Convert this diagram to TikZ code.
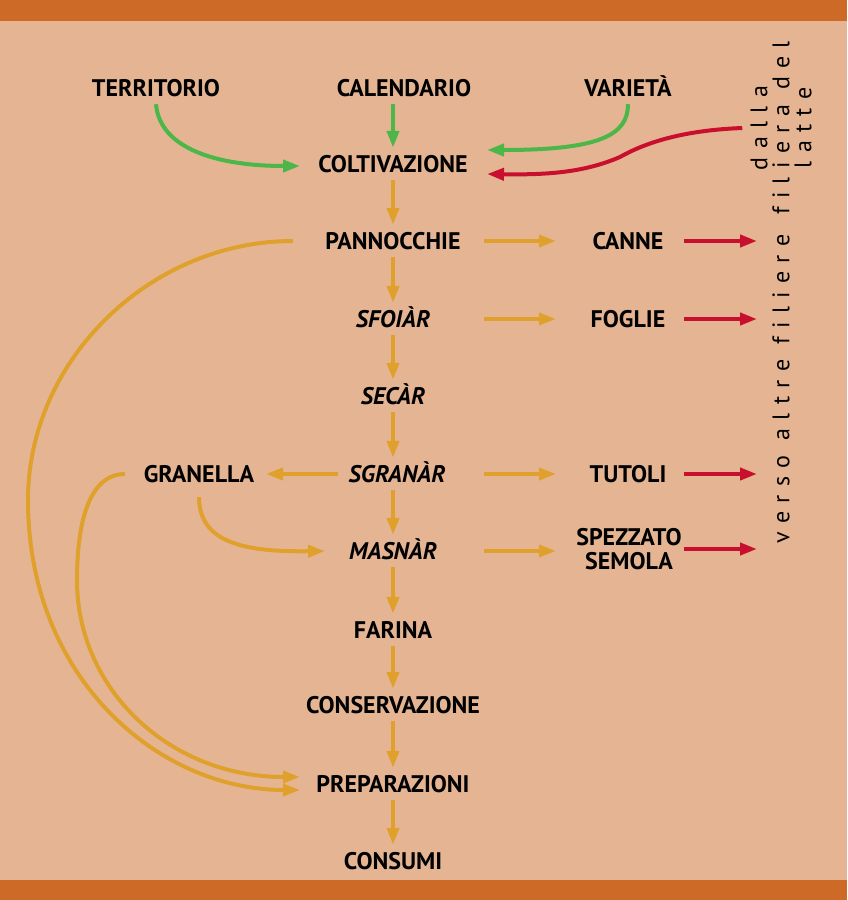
\documentclass[tikz,border=0pt]{standalone}
\usepackage{fontspec}
\setmainfont{PT Sans}
\newfontfamily\spaziato{PT Sans}[LetterSpace=35,Ligatures=NoCommon]
\usetikzlibrary{arrows.meta,calc}
\definecolor{fondo}{RGB}{229,181,147}
\definecolor{banda}{RGB}{205,106,40}
\definecolor{ocra}{RGB}{223,161,43}
\definecolor{verde}{RGB}{77,182,72}
\definecolor{rosso}{RGB}{200,16,46}

\begin{document}
\begin{tikzpicture}[
    x=1pt,y=-1pt,
    lab/.style={inner xsep=2pt,inner ysep=8pt,text height=16pt,text depth=0pt,font=\fontsize{24}{26}\selectfont\bfseries},
    fase/.style={lab,font=\fontsize{24}{26}\selectfont\bfseries\itshape},
    doppia/.style={align=center,inner sep=2pt,font=\fontsize{24}{24}\selectfont\bfseries},
    vtesto/.style={rotate=90,align=center,inner sep=3pt,font=\fontsize{24}{22}\selectfont\spaziato},
    ocr/.style={->,draw=ocra,line width=4pt},
    grn/.style={->,draw=verde,line width=4pt},
    ros/.style={->,draw=rosso,line width=4pt},
    >={Triangle[length=17pt,width=12pt]}]
    \fill[fondo] (0,0) rectangle (847,900);
    \fill[banda] (0,0) rectangle (847,21);
    \fill[banda] (0,880) rectangle (847,900);
    % nodi
    \node[lab] (terr) at (156,88) {TERRITORIO};
    \node[lab] (cal) at (404,88) {CALENDARIO};
    \node[lab] (var) at (628,88) {VARIETÀ};
    \node[lab] (colt) at (393,164) {COLTIVAZIONE};
    \node[lab] (pann) at (393,241) {PANNOCCHIE};
    \node[fase] (sfo) at (393,319) {SFOIÀR};
    \node[fase] (sec) at (393,396) {SECÀR};
    \node[fase] (sgr) at (397,474) {SGRANÀR};
    \node[fase] (mas) at (393,551) {MASNÀR};
    \node[lab] (far) at (393,630) {FARINA};
    \node[lab] (cons) at (393,705) {CONSERVAZIONE};
    \node[lab] (prep) at (393,784) {PREPARAZIONI};
    \node[lab] (consu) at (393,861) {CONSUMI};
    \node[lab] (gran) at (199,474) {GRANELLA};
    \node[lab] (canne) at (628,241) {CANNE};
    \node[lab] (foglie) at (628,319) {FOGLIE};
    \node[lab] (tutoli) at (628,474) {TUTOLI};
    \node[doppia] (spez) at (629,549) {SPEZZATO\\SEMOLA};
    \node[vtesto] (verso) at (781,389) {verso altre filiere};
    \node[vtesto] (dalla) at (781,128) {dalla\\filiera del\\latte};
    % colonne delle frecce
    \coordinate (cl) at (300,0);
    \coordinate (cr) at (487,0);
    \coordinate (dx1) at (484,0);
    \coordinate (dx2) at (556,0);
    \coordinate (rx1) at (684,0);
    \coordinate (rx2) at (757,0);
    \coordinate (gx1) at (338,0);
    \coordinate (gx2) at (266,0);
    \coordinate (gw) at (125,0);
    \coordinate (px) at (293,0);
    \coordinate (mx) at (325,0);
    % filiera principale
    \foreach \a/\b in {colt/pann,pann/sfo,sfo/sec,sec/sgr,sgr/mas,mas/far,far/cons,cons/prep,prep/consu}
      \draw[ocr] (\a.south -| colt) -- (\b.north -| colt);
    \foreach \a/\b in {pann/canne,sfo/foglie,sgr/tutoli,mas/spez}{
      \draw[ocr] (\a -| dx1) -- (\a -| dx2);
      \draw[ros] (\b -| rx1) -- (\b -| rx2);
    }
    \draw[grn] (cal.south -| colt) -- (colt);
    \draw[grn] (terr.south) .. controls (160,150) and (220,166) .. ($(colt -| cl)+(0,2)$);
    \draw[grn] (var.south) .. controls (628,135) and (600,150) .. ($(colt -| cr)+(0,-14)$);
    \draw[ros] ($(dalla.north)+(-5,0)$) .. controls (690,130) and (650,140) .. (620,157)
      .. controls (585,172) and (550,175) .. ($(colt -| cr)+(0,10)$);
    \draw[ocr] (sgr -| gx1) -- (gran -| gx2);
    \draw[ocr] ($(gran.south)+(0,7)$) .. controls (199,545) and (250,552) .. (mas -| mx);
    \draw[ocr] (pann -| px) .. controls (150,241) and (28,360) .. (28,500)
      .. controls (28,680) and (160,790) .. ($(prep -| cl)+(0,6)$);
    \draw[ocr] (gran -| gw) .. controls (90,474) and (77,520) .. (77,580)
      .. controls (77,690) and (170,777) .. ($(prep -| cl)+(0,-7)$);
\end{tikzpicture}
\end{document}
